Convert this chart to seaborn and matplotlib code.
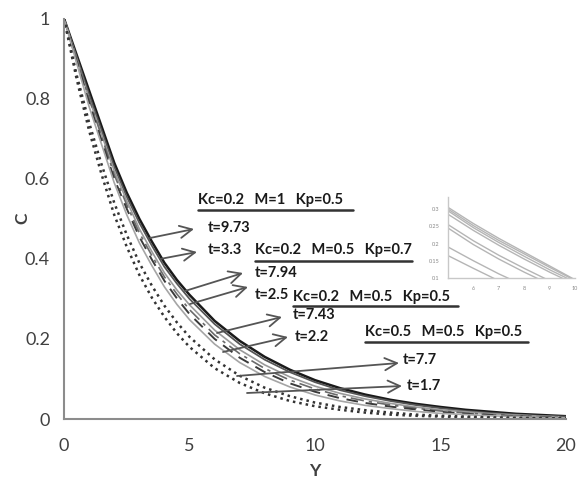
import numpy as np
import pandas as pd
import matplotlib
matplotlib.use("Agg")
import matplotlib.pyplot as plt
import seaborn as sns
from matplotlib.lines import Line2D
from matplotlib.transforms import IdentityTransform

# ---------------- data ----------------
Y = [0, 0.5, 1, 1.5, 2, 2.5, 3, 3.5, 4, 4.5, 5, 6, 7, 8, 9, 10, 11, 12, 13, 14, 15, 16, 17, 18, 19, 20]
c_k02_m1_t973 = [1, .91, .82, .73, .64, .565, .50, .443, .39, .347, .31, .245, .195, .155, .123, .097, .077, .061, .048, .038, .030, .023, .018, .013, .010, .007]
c_k02_m1_t33 = [1, .905, .81, .72, .63, .555, .49, .433, .38, .338, .30, .237, .187, .148, .117, .092, .072, .057, .045, .035, .027, .020, .015, .011, .008, .006]
c_k02_kp07_t794 = [1, .90, .80, .71, .62, .545, .475, .418, .365, .322, .285, .222, .173, .135, .105, .082, .064, .050, .039, .030, .023, .018, .013, .010, .007, .005]
c_k02_kp07_t25 = [1, .90, .80, .705, .61, .535, .465, .408, .355, .312, .273, .21, .163, .126, .097, .075, .058, .045, .035, .027, .020, .015, .011, .008, .006, .004]
c_k02_kp05_t743 = [1, .895, .79, .695, .60, .525, .455, .398, .345, .301, .262, .20, .153, .117, .089, .068, .052, .040, .031, .024, .018, .013, .010, .007, .005, .004]
c_k02_kp05_t22 = [1, .89, .78, .685, .59, .51, .44, .383, .33, .286, .248, .187, .141, .106, .080, .060, .045, .034, .026, .019, .014, .011, .008, .006, .004, .003]
c_k05_t77 = [1, .86, .74, .635, .54, .46, .39, .333, .283, .241, .205, .149, .108, .078, .057, .041, .030, .022, .016, .011, .008, .006, .004, .003, .002, .002]
c_k05_t17 = [1, .85, .72, .61, .51, .43, .36, .303, .255, .214, .18, .127, .090, .064, .045, .032, .023, .016, .011, .008, .006, .004, .003, .002, .001, .001]

x_ticks = [0, 5, 10, 15, 20]
y_ticks = [0, 0.2, 0.4, 0.6, 0.8, 1]
y_tick_labels = ["0", "0.2", "0.4", "0.6", "0.8", "1"]

# inset data
inset_x = [5, 6, 7, 8, 9, 10]
inset_1 = [0.305, 0.258, 0.215, 0.175, 0.135, 0.095]
inset_2 = [0.300, 0.252, 0.209, 0.170, 0.131, 0.093]
inset_3 = [0.295, 0.246, 0.203, 0.163, 0.124, 0.088]
inset_4 = [0.285, 0.238, 0.195, 0.155, 0.117, 0.082]
inset_5 = [0.255, 0.208, 0.166, 0.128, 0.092, 0.060]
inset_6 = [0.245, 0.197, 0.155, 0.117, 0.082, 0.050]
inset_7 = [0.190, 0.150, 0.112, 0.078, 0.050, 0.030]
inset_8 = [0.165, 0.128, 0.092, 0.060, 0.035, 0.020]
inset_xticks = [6, 7, 8, 9, 10]
inset_yticks = [0.1, 0.15, 0.2, 0.25, 0.3]
inset_ylabels = ["0.1", "0.15", "0.2", "0.25", "0.3"]

# ---------------- style ----------------
sns.set_theme(style="white")
plt.rcParams["font.family"] = ["Lato", "DejaVu Sans"]

W, H = 581, 478
fig = plt.figure(figsize=(W / 100, H / 100), dpi=100)
ax = fig.add_axes([64 / W, 1 - 419 / H, (566 - 64) / W, (419 - 18.5) / H])

curves = [
    (c_k02_m1_t973, dict(color="#1a1a1a", lw=1.8, ls="-")),
    (c_k02_m1_t33, dict(color="#555555", lw=1.3, ls="-")),
    (c_k02_kp07_t794, dict(color="#9a9a9a", lw=1.2, ls="-")),
    (c_k02_kp07_t25, dict(color="#6a6a6a", lw=1.2, ls=(0, (8, 3, 2, 3)))),
    (c_k02_kp05_t743, dict(color="#3a3a3a", lw=1.4, ls=(0, (6, 4)))),
    (c_k02_kp05_t22, dict(color="#a5a5a5", lw=1.2, ls="-")),
    (c_k05_t77, dict(color="#333333", lw=1.8, ls=(0, (1.0, 1.6)))),
    (c_k05_t17, dict(color="#333333", lw=1.8, ls=(0, (1.0, 1.6)))),
]
for vals, st in curves:
    sns.lineplot(x=Y, y=vals, ax=ax, color=st["color"], linewidth=st["lw"],
                 linestyle=st["ls"], legend=False)

ax.set_xlim(0, 20)
ax.set_ylim(0, 1)
ax.set_xticks(x_ticks)
ax.set_yticks(y_ticks)
ax.set_yticklabels(y_tick_labels)
for s in ["top", "right"]:
    ax.spines[s].set_visible(False)
for s in ["left", "bottom"]:
    ax.spines[s].set_color("#8c8c8c")
    ax.spines[s].set_linewidth(1.5)
ax.tick_params(axis="x", direction="inout", length=9, width=1.3, color="#8c8c8c",
               labelsize=13, labelcolor="#404040", pad=9)
ax.tick_params(axis="y", direction="out", length=5, width=1.3, color="#8c8c8c",
               labelsize=13, labelcolor="#404040", pad=5)
ax.set_xlabel("Y", fontsize=12.5, fontweight="bold", color="#404040", labelpad=7)
ax.set_ylabel("C", fontsize=12.5, fontweight="bold", color="#404040", labelpad=2)
ax.yaxis.set_label_coords((30 - 64) / (566 - 64), 0.5)

# ---------------- annotations (figure pixel coords) ----------------
ident = IdentityTransform()


def P(x, y):
    return (x, H - y)


def hline(x0, x1, y, lw=1.8):
    fig.add_artist(Line2D([x0, x1], [H - y, H - y], transform=ident, color="#333333", lw=lw))


def label(x, y, s):
    fig.text(x / W, 1 - y / H, s, fontsize=10.5, fontweight="bold", color="#1a1a1a",
             ha="left", va="center")


def arrow(x0, y0, x1, y1):
    ax.annotate("", xy=P(x1, y1), xycoords="figure pixels", xytext=P(x0, y0),
                textcoords="figure pixels",
                arrowprops=dict(arrowstyle="->", color="#555555", lw=1.3,
                                mutation_scale=22, shrinkA=0, shrinkB=0))


label(198, 200, "Kc=0.2   M=1   Kp=0.5")
hline(198, 353, 210)
label(208, 228, "t=9.73")
arrow(150, 238, 194, 229)
label(208, 250, "t=3.3")
arrow(160, 259, 197, 252)

label(255, 250, "Kc=0.2   M=0.5   Kp=0.7")
hline(255, 412, 261)
label(255, 273, "t=7.94")
arrow(185, 291, 243, 273)
label(255, 295, "t=2.5")
arrow(190, 304, 248, 287)

label(293, 297, "Kc=0.2   M=0.5   Kp=0.5")
hline(293, 458, 306)
label(293, 315, "t=7.43")
arrow(217, 333, 282, 317)
label(295, 337, "t=2.2")
arrow(223, 352, 288, 337)

label(365, 332, "Kc=0.5   M=0.5   Kp=0.5")
hline(365, 528, 342)
label(403, 360, "t=7.7")
arrow(237, 376, 399, 363)
label(407, 386, "t=1.7")
arrow(247, 393, 402, 386)

# ---------------- inset ----------------
iax = fig.add_axes([448 / W, 1 - 278 / H, (575 - 448) / W, (278 - 197) / H])
for vals in [inset_1, inset_2, inset_3, inset_4, inset_5, inset_6, inset_7, inset_8]:
    sns.lineplot(x=inset_x, y=vals, ax=iax, color="#b5b5b5", linewidth=1.0, legend=False)
iax.set_xlim(5, 10)
iax.set_ylim(0.1, 0.335)
iax.set_xticks(inset_xticks)
iax.set_yticks(inset_yticks)
iax.set_yticklabels(inset_ylabels)
iax.patch.set_alpha(0)
for s in ["top", "right"]:
    iax.spines[s].set_visible(False)
for s in ["left", "bottom"]:
    iax.spines[s].set_color("#c8c8c8")
    iax.spines[s].set_linewidth(1.0)
iax.tick_params(axis="both", length=0, labelsize=4, labelcolor="#888888", pad=6)

fig.savefig("out.png", dpi=100)
